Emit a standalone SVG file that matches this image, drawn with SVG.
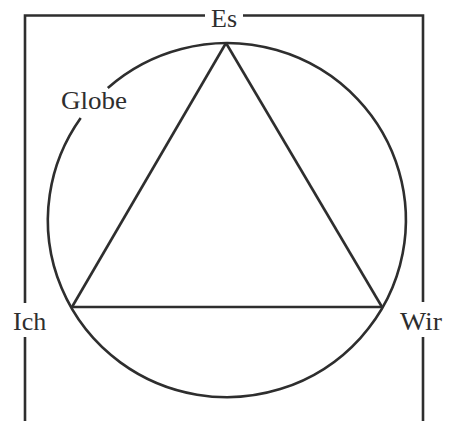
<svg xmlns="http://www.w3.org/2000/svg" width="451" height="421" viewBox="0 0 451 421">
<style>
.ln{fill:none;stroke:#2e2e2e;stroke-width:2.6;stroke-linecap:butt;stroke-linejoin:miter}
.lb{font-family:"Liberation Serif","Times New Roman",serif;font-size:26px;fill:#2e2e2e}
</style>
<rect width="451" height="421" fill="#ffffff"/>
<g id="frame">
<polyline class="ln" points="205,15.5 25,15.5 25,303"/>
<line class="ln" x1="25" y1="337" x2="25" y2="421"/>
<polyline class="ln" points="243,15.5 423,15.5 423,302"/>
<line class="ln" x1="423" y1="337" x2="423" y2="421"/>
</g>
<g id="globe">
<path class="ln" d="M 107.8 88 A 179 177 0 1 1 80.7 118"/>
<text class="lb" x="61" y="109" textLength="66" lengthAdjust="spacingAndGlyphs">Globe</text>
</g>
<g id="connectors">
<line class="ln" x1="226" y1="43" x2="72" y2="307"/>
<line class="ln" x1="226" y1="43" x2="382" y2="307"/>
<line class="ln" x1="72" y1="307" x2="382" y2="307"/>
</g>
<g id="es">
<text class="lb" x="211" y="27">Es</text>
</g>
<g id="ich">
<text class="lb" x="13" y="330">Ich</text>
</g>
<g id="wir">
<text class="lb" x="400" y="330" textLength="42" lengthAdjust="spacingAndGlyphs">Wir</text>
</g>
</svg>
